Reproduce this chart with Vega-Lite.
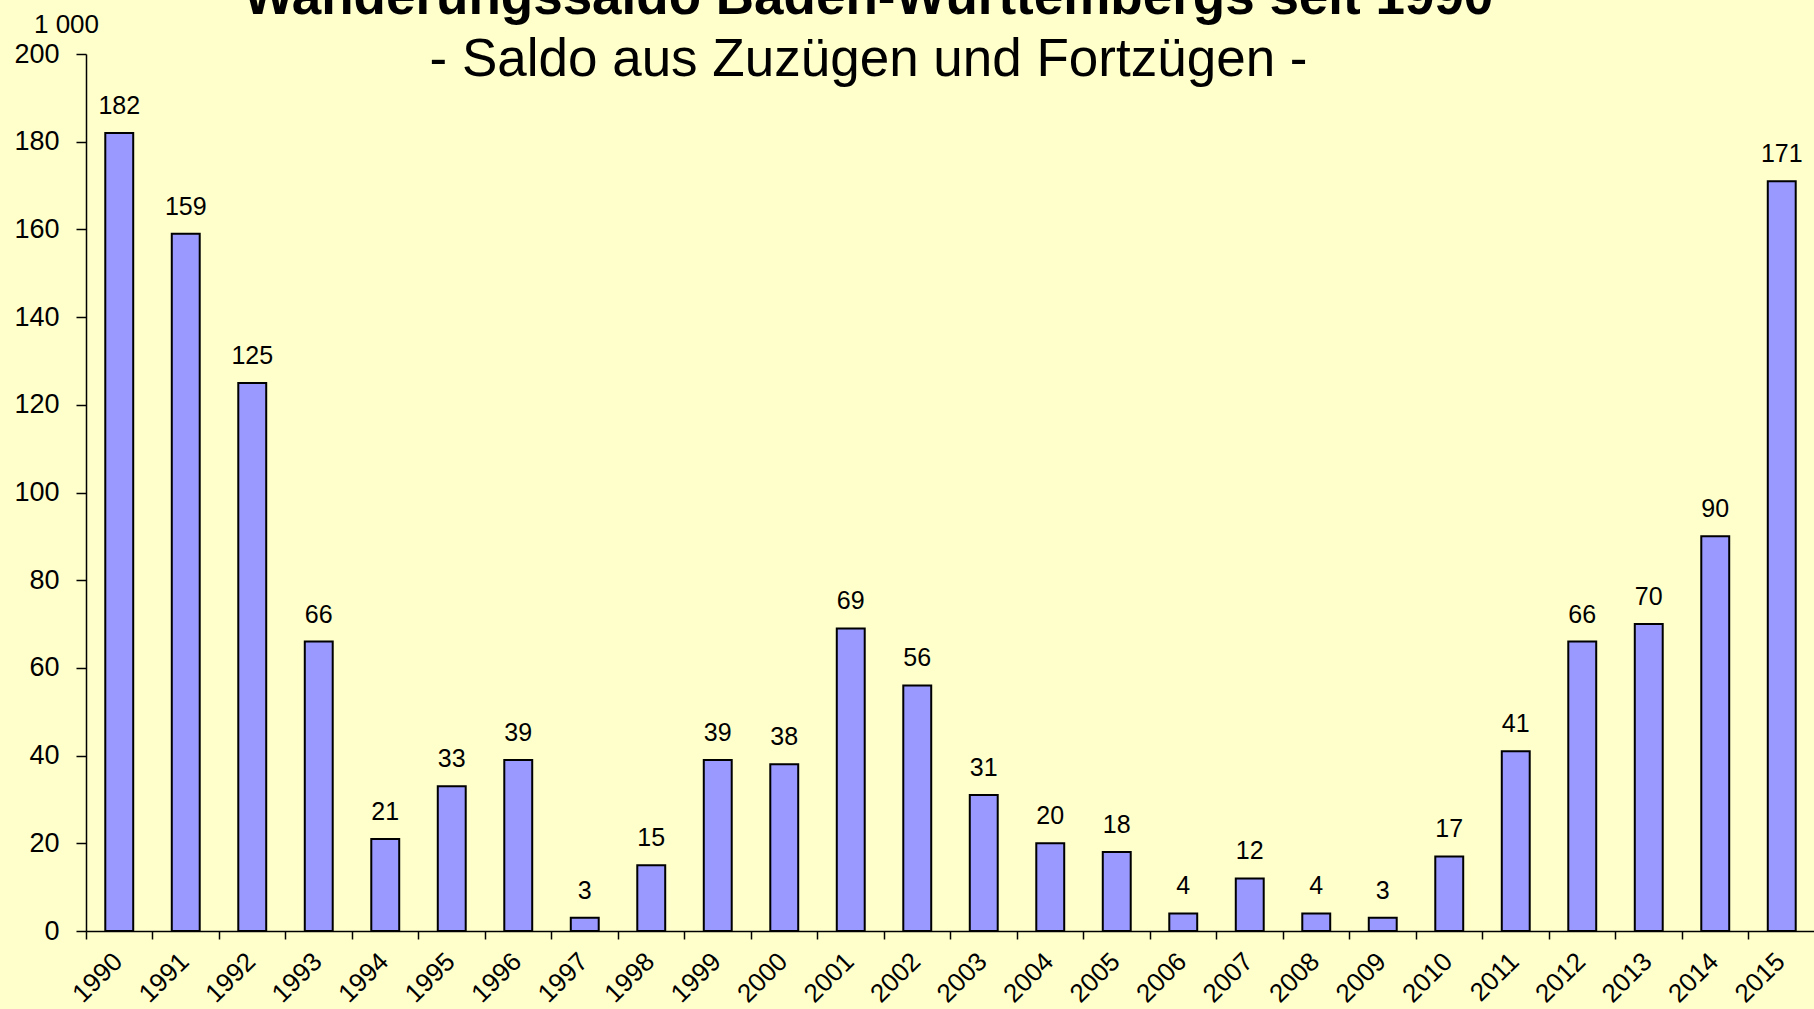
{
  "$schema": "https://vega.github.io/schema/vega-lite/v6.json",
  "width": 1729,
  "height": 877,
  "autosize": {"type": "none"},
  "padding": {"left": 86, "top": 54, "right": 0, "bottom": 78},
  "background": "#FFFFCC",
  "config": {"view": {"stroke": null}, "font": "Liberation Sans"},
  "title": {
    "text": "Wanderungssaldo Baden-Württembergs seit 1990",
    "subtitle": "- Saldo aus Zuzügen und Fortzügen -",
    "anchor": "middle",
    "frame": "group",
    "dx": -82,
    "offset": -76,
    "fontSize": 53,
    "fontWeight": "bold",
    "color": "#000000",
    "subtitleFontSize": 53,
    "subtitleColor": "#000000",
    "subtitlePadding": 9,
    "font": "Liberation Sans",
    "subtitleFont": "Liberation Sans"
  },
  "data": {
    "values": [
      {"year": "1990", "value": 182},
      {"year": "1991", "value": 159},
      {"year": "1992", "value": 125},
      {"year": "1993", "value": 66},
      {"year": "1994", "value": 21},
      {"year": "1995", "value": 33},
      {"year": "1996", "value": 39},
      {"year": "1997", "value": 3},
      {"year": "1998", "value": 15},
      {"year": "1999", "value": 39},
      {"year": "2000", "value": 38},
      {"year": "2001", "value": 69},
      {"year": "2002", "value": 56},
      {"year": "2003", "value": 31},
      {"year": "2004", "value": 20},
      {"year": "2005", "value": 18},
      {"year": "2006", "value": 4},
      {"year": "2007", "value": 12},
      {"year": "2008", "value": 4},
      {"year": "2009", "value": 3},
      {"year": "2010", "value": 17},
      {"year": "2011", "value": 41},
      {"year": "2012", "value": 66},
      {"year": "2013", "value": 70},
      {"year": "2014", "value": 90},
      {"year": "2015", "value": 171}
    ]
  },
  "layer": [
    {
      "mark": {"type": "bar", "opacity": 0},
      "encoding": {
        "x": {
          "field": "year", "type": "ordinal", "sort": null,
          "scale": {"paddingInner": 0, "paddingOuter": 0},
          "axis": {
            "orient": "bottom", "labels": false, "domain": false, "title": null,
            "ticks": true, "tickSize": 8, "tickColor": "#000000", "tickWidth": 1.5,
            "bandPosition": 0, "grid": false
          }
        },
        "y": {
          "field": "value", "type": "quantitative",
          "scale": {"domain": [0, 200]},
          "axis": {
            "values": [0, 20, 40, 60, 80, 100, 120, 140, 160, 180, 200],
            "grid": false, "tickSize": 10, "tickColor": "#000000", "tickWidth": 1.5,
            "domainColor": "#000000", "domainWidth": 1.5,
            "labelFontSize": 27, "labelColor": "#000000", "labelPadding": 17,
            "labelFont": "Liberation Sans",
            "title": "1 000", "titleAngle": 0, "titleX": -20, "titleY": -30,
            "titleAlign": "center", "titleBaseline": "middle",
            "titleFontSize": 26, "titleFontWeight": "normal", "titleColor": "#000000",
            "titleFont": "Liberation Sans"
          }
        }
      }
    },
    {
      "layer": [
        {
          "mark": {"type": "bar", "color": "#9999FF", "stroke": "#000000", "strokeWidth": 2},
          "encoding": {
            "x": {
              "field": "year", "type": "ordinal", "sort": null,
              "scale": {"paddingInner": 0.58, "paddingOuter": 0.29},
              "axis": {
                "orient": "bottom", "title": null, "ticks": false, "tickSize": 0,
                "labelAngle": -45, "labelAlign": "right", "labelBaseline": "middle",
                "labelPadding": 26, "labelOffset": -1,
                "labelFontSize": 26, "labelColor": "#000000", "labelFont": "Liberation Sans",
                "domainColor": "#000000", "domainWidth": 1.5, "grid": false
              }
            },
            "y": {"field": "value", "type": "quantitative"}
          }
        },
        {
          "mark": {"type": "text", "baseline": "bottom", "dy": -14, "fontSize": 25, "color": "#000000", "font": "Liberation Sans"},
          "encoding": {
            "x": {"field": "year", "type": "ordinal", "sort": null},
            "y": {"field": "value", "type": "quantitative"},
            "text": {"field": "value", "type": "quantitative", "format": ".0f"}
          }
        }
      ]
    }
  ],
  "resolve": {"scale": {"x": "independent"}, "axis": {"x": "independent"}}
}
